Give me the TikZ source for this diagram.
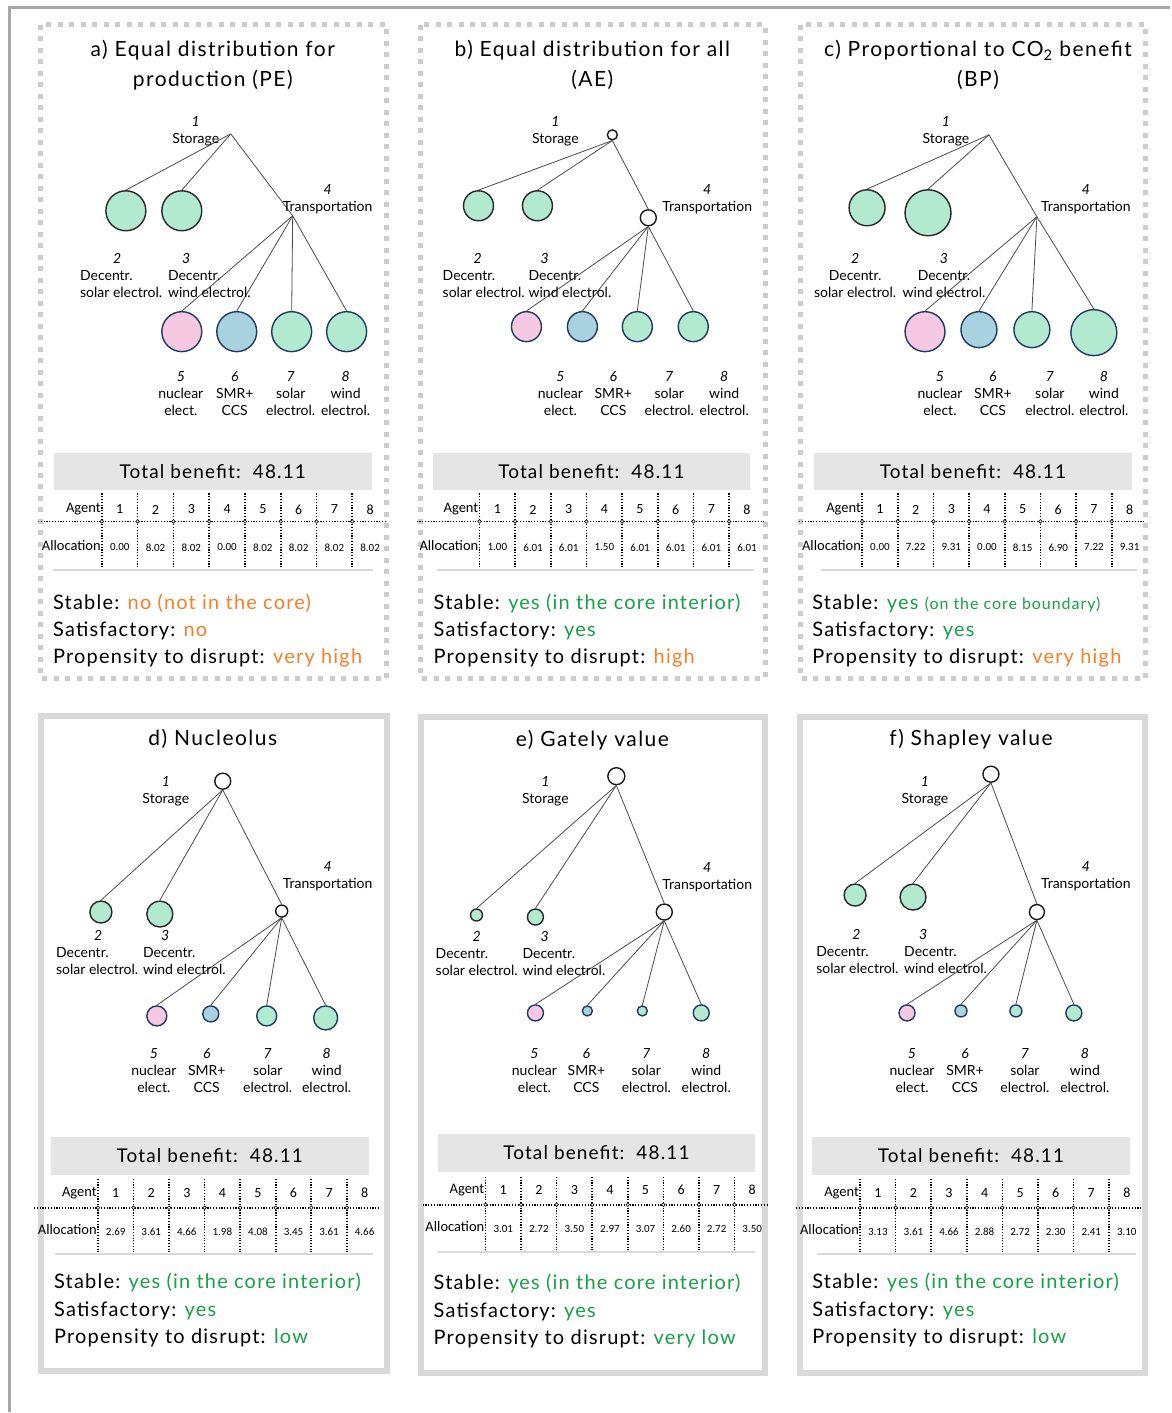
\documentclass[tikz,border=0pt]{standalone}
\usepackage{fontspec}
\setmainfont{Lato}
\newfontfamily\titlefont[LetterSpace=7]{Lato}
\newfontfamily\statusfont[LetterSpace=6]{Lato}
\newfontfamily\tabfont{Carlito}
\definecolor{mint}{RGB}{178,234,208}
\definecolor{pinkfill}{RGB}{247,200,226}
\definecolor{bluefill}{RGB}{168,210,224}
\definecolor{navy}{RGB}{31,56,100}
\definecolor{okgreen}{RGB}{24,160,72}
\definecolor{warnorange}{RGB}{245,128,40}

\begin{document}
\begin{tikzpicture}[
    x=1pt, y=-1pt,
    outerframe/.style={draw=gray!70, line width=3},
    dotframe/.style={draw=gray!40, line width=5, dash pattern=on 5 off 6.5},
    solidframe/.style={draw=gray!30, line width=6},
    title/.style={font=\titlefont\fontsize{21}{30}\selectfont, align=center},
    src/.style={circle, draw=black!85, fill=mint, line width=1.4, inner sep=0},
    gen/.style={circle, draw=navy, line width=1.4, inner sep=0},
    hub/.style={circle, draw=black!90, fill=white, line width=1.4, inner sep=0},
    link/.style={draw=black!70, line width=0.8},
    lbl/.style={font=\fontsize{14}{17}\selectfont, align=center, anchor=north, inner sep=0},
    lblL/.style={lbl, align=left, anchor=north west},
    benefit/.style={fill=gray!20, font=\statusfont\fontsize{19}{19}\selectfont, inner sep=0, minimum width=318, minimum height=38},
    rowhead/.style={font=\tabfont\fontsize{14.5}{14.5}\selectfont, anchor=east, inner sep=1},
    agentno/.style={font=\tabfont\fontsize{14}{14}\selectfont},
    allocno/.style={font=\tabfont\fontsize{11}{11}\selectfont},
    tabdots/.style={line width=1.6, dash pattern=on 1.2 off 1.6},
    jdot/.style={line width=0.6, fill=white},
    rule/.style={draw=gray!30, line width=2},
    status/.style={anchor=west, inner sep=0, font=\statusfont\fontsize{20}{20}\selectfont}
  ]

  \fill[white] (0,0) rectangle (1171,1413);
  \draw[outerframe] (10,1413) -- (10,8) -- (1171,8);

  % ---------------- a) PE ----------------
  \draw[dotframe] (41,25) rectangle (387,679);
  \node[title] (aT) at (213,65) {a) Equal distribution for\\production (PE)};

  \coordinate (a1) at (231,134);
  \coordinate (a4) at (293,216);
  \node[src, minimum size=40] (a2) at (126,211) {};
  \node[src, minimum size=40] (a3) at (182,211) {};
  \node[gen, fill=pinkfill, minimum size=40] (a5) at (182,332) {};
  \node[gen, fill=bluefill, minimum size=40] (a6) at (237,332) {};
  \node[gen, fill=mint, minimum size=40] (a7) at (292,332) {};
  \node[gen, fill=mint, minimum size=40] (a8) at (347,332) {};
  \draw[link] (a1) -- (a2.north);
  \draw[link] (a1) -- (a3.north);
  \draw[link] (a1) -- (a4);
  \foreach \k in {5,...,8} \draw[link] (a4) -- (a\k.north);

  \node[lbl] (aL1) at (196,116) {\textit{1}\\Storage};
  \node[lbl] (aL4) at (328,184) {\textit{4}\\Transportation};
  \node[lblL] (aL2) at (80,253) {\hspace*{33pt}\textit{2}\\Decentr.\\solar electrol.};
  \node[lblL] (aL3) at (168,253) {\hspace*{14pt}\textit{3}\\Decentr.\\wind electrol.};
  \node[lbl] (aL5) at (181,372) {\textit{5}\\nuclear\\elect.};
  \node[lbl] (aL6) at (235,372) {\textit{6}\\SMR+\\CCS};
  \node[lbl] (aL7) at (291,372) {\textit{7}\\solar\\electrol.};
  \node[lbl] (aL8) at (346,372) {\textit{8}\\wind\\electrol.};

  \node[benefit] (aB) at (213,472) {Total benefit:\ \ 48.11};
  \node[rowhead] (aAg) at (102,510) {Agent};
  \node[rowhead] (aAl) at (102,546) {Allocation};
  \draw[tabdots] (38,522) -- (386,522);
  \foreach \v [count=\i] in {0.00,8.02,8.02,0.00,8.02,8.02,8.02,8.02} {
    \pgfmathsetmacro\xl{102+35.8*(\i-1)}
    \draw[tabdots] (\xl,494) -- (\xl,568);
    \draw[jdot] (\xl,522) circle (1.8);
    \node[agentno] (aN\i) at (\xl+17.9,510) {\i};
    \node[allocno] (aV\i) at (\xl+17.9,548) {\v};
  }
  \draw[rule] (53,571) -- (373,571);
  \node[status] (aS1) at (53,604) {Stable: \textcolor{warnorange}{no (not in the core)}};
  \node[status] (aS2) at (53,632) {Satisfactory: \textcolor{warnorange}{no}};
  \node[status] (aS3) at (53,659) {Propensity to disrupt: \textcolor{warnorange}{very high}};

  % ---------------- b) AE ----------------
  \draw[dotframe] (421,25) rectangle (766,679);
  \node[title] (bT) at (593,65) {b) Equal distribution for all\\(AE)};

  \node[hub, minimum size=10] (b1) at (613,135) {};
  \node[hub, minimum size=16] (b4) at (649,218) {};
  \node[src, minimum size=30] (b2) at (479,206) {};
  \node[src, minimum size=30] (b3) at (538,206) {};
  \node[gen, fill=pinkfill, minimum size=30] (b5) at (527,327) {};
  \node[gen, fill=bluefill, minimum size=30] (b6) at (583,327) {};
  \node[gen, fill=mint, minimum size=30] (b7) at (638,327) {};
  \node[gen, fill=mint, minimum size=30] (b8) at (694,327) {};
  \draw[link] (b1.south) -- (b2.north);
  \draw[link] (b1.south) -- (b3.north);
  \draw[link] (b1.south) -- (b4.north);
  \foreach \k in {5,...,8} \draw[link] (b4.south) -- (b\k.north);

  \node[lbl] (bL1) at (556,116) {\textit{1}\\Storage};
  \node[lbl] (bL4) at (708,184) {\textit{4}\\Transportation};
  \node[lblL] (bL2) at (443,253) {\hspace*{31pt}\textit{2}\\Decentr.\\solar electrol.};
  \node[lblL] (bL3) at (529,253) {\hspace*{12pt}\textit{3}\\Decentr.\\wind electrol.};
  \node[lbl] (bL5) at (561,372) {\textit{5}\\nuclear\\elect.};
  \node[lbl] (bL6) at (614,372) {\textit{6}\\SMR+\\CCS};
  \node[lbl] (bL7) at (670,372) {\textit{7}\\solar\\electrol.};
  \node[lbl] (bL8) at (725,372) {\textit{8}\\wind\\electrol.};

  \node[benefit] (bB) at (592,472) {Total benefit:\ \ 48.11};
  \node[rowhead] (bAg) at (480,510) {Agent};
  \node[rowhead] (bAl) at (480,546) {Allocation};
  \draw[tabdots] (417,522) -- (765,522);
  \foreach \v [count=\i] in {1.00,6.01,6.01,1.50,6.01,6.01,6.01,6.01} {
    \pgfmathsetmacro\xl{480+35.7*(\i-1)}
    \draw[tabdots] (\xl,494) -- (\xl,568);
    \draw[jdot] (\xl,522) circle (1.8);
    \node[agentno] (bN\i) at (\xl+17.9,510) {\i};
    \node[allocno] (bV\i) at (\xl+17.9,548) {\v};
  }
  \draw[rule] (437,571) -- (755,571);
  \node[status] (bS1) at (434,604) {Stable: \textcolor{okgreen}{yes (in the core interior)}};
  \node[status] (bS2) at (434,632) {Satisfactory: \textcolor{okgreen}{yes}};
  \node[status] (bS3) at (434,659) {Propensity to disrupt: \textcolor{warnorange}{high}};

  % ---------------- c) BP ----------------
  \draw[dotframe] (801,25) rectangle (1147,679);
  \node[title] (cT) at (979,65) {c) Proportional to CO\textsubscript{2} benefit\\(BP)};

  \coordinate (c1) at (990,135);
  \coordinate (c4) at (1038,217);
  \node[src, minimum size=36] (c2) at (868,208) {};
  \node[src, minimum size=46] (c3) at (929,213) {};
  \node[gen, fill=pinkfill, minimum size=40] (c5) at (926,332) {};
  \node[gen, fill=bluefill, minimum size=36] (c6) at (980,330) {};
  \node[gen, fill=mint, minimum size=36] (c7) at (1033,330) {};
  \node[gen, fill=mint, minimum size=46] (c8) at (1095,333) {};
  \draw[link] (c1) -- (c2.north);
  \draw[link] (c1) -- (c3.north);
  \draw[link] (c1) -- (c4);
  \foreach \k in {5,...,8} \draw[link] (c4) -- (c\k.north);

  \node[lbl] (cL1) at (947,116) {\textit{1}\\Storage};
  \node[lbl] (cL4) at (1087,184) {\textit{4}\\Transportation};
  \node[lbl] (cL2) at (856,253) {\textit{2}\\Decentr.\\solar electrol.};
  \node[lbl] (cL3) at (945,253) {\textit{3}\\Decentr.\\wind electrol.};
  \node[lbl] (cL5) at (941,372) {\textit{5}\\nuclear\\elect.};
  \node[lbl] (cL6) at (994,372) {\textit{6}\\SMR+\\CCS};
  \node[lbl] (cL7) at (1051,372) {\textit{7}\\solar\\electrol.};
  \node[lbl] (cL8) at (1105,372) {\textit{8}\\wind\\electrol.};

  \node[benefit] (cB) at (974,472) {Total benefit:\ \ 48.11};
  \node[rowhead] (cAg) at (863,510) {Agent};
  \node[rowhead] (cAl) at (863,546) {Allocation};
  \draw[tabdots] (800,522) -- (1147,522);
  \foreach \v [count=\i] in {0.00,7.22,9.31,0.00,8.15,6.90,7.22,9.31} {
    \pgfmathsetmacro\xl{863+35.7*(\i-1)}
    \draw[tabdots] (\xl,494) -- (\xl,568);
    \draw[jdot] (\xl,522) circle (1.8);
    \node[agentno] (cN\i) at (\xl+17.9,510) {\i};
    \node[allocno] (cV\i) at (\xl+17.9,548) {\v};
  }
  \draw[rule] (822,571) -- (1138,571);
  \node[status] (cS1) at (813,604) {Stable: \textcolor{okgreen}{yes {\fontsize{16}{16}\selectfont(on the core boundary)}}};
  \node[status] (cS2) at (813,632) {Satisfactory: \textcolor{okgreen}{yes}};
  \node[status] (cS3) at (813,659) {Propensity to disrupt: \textcolor{warnorange}{very high}};

  % ---------------- d) Nucleolus ----------------
  \draw[solidframe] (41,717) rectangle (387,1372);
  \node[title] (dT) at (213,740) {d) Nucleolus};

  \node[hub, minimum size=16] (d1) at (223,782) {};
  \node[hub, minimum size=12] (d4) at (282,912) {};
  \node[src, minimum size=22] (d2) at (101,913) {};
  \node[src, minimum size=26] (d3) at (160,915) {};
  \node[gen, fill=pinkfill, minimum size=20] (d5) at (157,1017) {};
  \node[gen, fill=bluefill, minimum size=16] (d6) at (211,1015) {};
  \node[gen, fill=mint, minimum size=20] (d7) at (267,1017) {};
  \node[gen, fill=mint, minimum size=24] (d8) at (326,1019) {};
  \draw[link] (d1.south) -- (d2.north);
  \draw[link] (d1.south) -- (d3.north);
  \draw[link] (d1.south) -- (d4.north);
  \foreach \k in {5,...,8} \draw[link] (d4.south) -- (d\k.north);

  \node[lbl] (dL1) at (166,777) {\textit{1}\\Storage};
  \node[lbl] (dL4) at (328,862) {\textit{4}\\Transportation};
  \node[lblL] (dL2) at (56,931) {\hspace*{38pt}\textit{2}\\Decentr.\\solar electrol.};
  \node[lblL] (dL3) at (143,931) {\hspace*{18pt}\textit{3}\\Decentr.\\wind electrol.};
  \node[lbl] (dL5) at (154,1049) {\textit{5}\\nuclear\\elect.};
  \node[lbl] (dL6) at (207,1049) {\textit{6}\\SMR+\\CCS};
  \node[lbl] (dL7) at (268,1049) {\textit{7}\\solar\\electrol.};
  \node[lbl] (dL8) at (327,1049) {\textit{8}\\wind\\electrol.};

  \node[benefit] (dB) at (210,1157) {Total benefit:\ \ 48.11};
  \node[rowhead] (dAg) at (98,1194) {Agent};
  \node[rowhead] (dAl) at (98,1231) {Allocation};
  \draw[tabdots] (34,1209) -- (381,1209);
  \foreach \v [count=\i] in {2.69,3.61,4.66,1.98,4.08,3.45,3.61,4.66} {
    \pgfmathsetmacro\xl{98+35.6*(\i-1)}
    \draw[tabdots] (\xl,1180) -- (\xl,1253);
    \draw[jdot] (\xl,1209) circle (1.8);
    \node[agentno] (dN\i) at (\xl+17.8,1194) {\i};
    \node[allocno] (dV\i) at (\xl+17.8,1233) {\v};
  }
  \draw[rule] (55,1255) -- (373,1255);
  \node[status] (dS1) at (54,1284) {Stable: \textcolor{okgreen}{yes (in the core interior)}};
  \node[status] (dS2) at (54,1312) {Satisfactory: \textcolor{okgreen}{yes}};
  \node[status] (dS3) at (54,1339) {Propensity to disrupt: \textcolor{okgreen}{low}};

  % ---------------- e) Gately value ----------------
  \draw[solidframe] (421,718) rectangle (766,1374);
  \node[title] (eT) at (593,741) {e) Gately value};

  \node[hub, minimum size=17] (e1) at (617,777) {};
  \node[hub, minimum size=16] (e4) at (665,913) {};
  \node[src, minimum size=12] (e2) at (477,916) {};
  \node[src, minimum size=16] (e3) at (536,918) {};
  \node[gen, fill=pinkfill, minimum size=16] (e5) at (536,1014) {};
  \node[gen, fill=bluefill, minimum size=10] (e6) at (588,1012) {};
  \node[gen, fill=mint, minimum size=10] (e7) at (643,1012) {};
  \node[gen, fill=mint, minimum size=16] (e8) at (702,1014) {};
  \draw[link] (e1.south) -- (e2.north);
  \draw[link] (e1.south) -- (e3.north);
  \draw[link] (e1.south) -- (e4.north);
  \foreach \k in {5,...,8} \draw[link] (e4.south) -- (e\k.north);

  \node[lbl] (eL1) at (546,777) {\textit{1}\\Storage};
  \node[lbl] (eL4) at (708,863) {\textit{4}\\Transportation};
  \node[lblL] (eL2) at (436,932) {\hspace*{37pt}\textit{2}\\Decentr.\\solar electrol.};
  \node[lblL] (eL3) at (523,932) {\hspace*{18pt}\textit{3}\\Decentr.\\wind electrol.};
  \node[lbl] (eL5) at (535,1049) {\textit{5}\\nuclear\\elect.};
  \node[lbl] (eL6) at (587,1049) {\textit{6}\\SMR+\\CCS};
  \node[lbl] (eL7) at (647,1049) {\textit{7}\\solar\\electrol.};
  \node[lbl] (eL8) at (707,1049) {\textit{8}\\wind\\electrol.};

  \node[benefit] (eB) at (597,1154) {Total benefit:\ \ 48.11};
  \node[rowhead] (eAg) at (486,1191) {Agent};
  \node[rowhead] (eAl) at (486,1228) {Allocation};
  \draw[tabdots] (423,1206) -- (769,1206);
  \foreach \v [count=\i] in {3.01,2.72,3.50,2.97,3.07,2.60,2.72,3.50} {
    \pgfmathsetmacro\xl{486+35.6*(\i-1)}
    \draw[tabdots] (\xl,1178) -- (\xl,1251);
    \draw[jdot] (\xl,1206) circle (1.8);
    \node[agentno] (eN\i) at (\xl+17.8,1191) {\i};
    \node[allocno] (eV\i) at (\xl+17.8,1230) {\v};
  }
  \draw[rule] (438,1253) -- (756,1253);
  \node[status] (eS1) at (434,1285) {Stable: \textcolor{okgreen}{yes (in the core interior)}};
  \node[status] (eS2) at (434,1313) {Satisfactory: \textcolor{okgreen}{yes}};
  \node[status] (eS3) at (434,1340) {Propensity to disrupt: \textcolor{okgreen}{very low}};

  % ---------------- f) Shapley value ----------------
  \draw[solidframe] (801,718) rectangle (1146,1374);
  \node[title] (fT) at (972,740) {f) Shapley value};

  \node[hub, minimum size=16] (f1) at (992,775) {};
  \node[hub, minimum size=15] (f4) at (1038,913) {};
  \node[src, minimum size=22] (f2) at (856,896) {};
  \node[src, minimum size=26] (f3) at (914,898) {};
  \node[gen, fill=pinkfill, minimum size=16] (f5) at (908,1014) {};
  \node[gen, fill=bluefill, minimum size=12] (f6) at (962,1012) {};
  \node[gen, fill=mint, minimum size=12] (f7) at (1017,1012) {};
  \node[gen, fill=mint, minimum size=16] (f8) at (1075,1014) {};
  \draw[link] (f1.south) -- (f2.north);
  \draw[link] (f1.south) -- (f3.north);
  \draw[link] (f1.south) -- (f4.north);
  \foreach \k in {5,...,8} \draw[link] (f4.south) -- (f\k.north);

  \node[lbl] (fL1) at (926,777) {\textit{1}\\Storage};
  \node[lbl] (fL4) at (1087,862) {\textit{4}\\Transportation};
  \node[lblL] (fL2) at (817,930) {\hspace*{36pt}\textit{2}\\Decentr.\\solar electrol.};
  \node[lblL] (fL3) at (905,930) {\hspace*{15pt}\textit{3}\\Decentr.\\wind electrol.};
  \node[lbl] (fL5) at (913,1049) {\textit{5}\\nuclear\\elect.};
  \node[lbl] (fL6) at (966,1049) {\textit{6}\\SMR+\\CCS};
  \node[lbl] (fL7) at (1026,1049) {\textit{7}\\solar\\electrol.};
  \node[lbl] (fL8) at (1086,1049) {\textit{8}\\wind\\electrol.};

  \node[benefit] (fB) at (972,1157) {Total benefit:\ \ 48.11};
  \node[rowhead] (fAg) at (861,1194) {Agent};
  \node[rowhead] (fAl) at (861,1231) {Allocation};
  \draw[tabdots] (797,1209) -- (1144,1209);
  \foreach \v [count=\i] in {3.13,3.61,4.66,2.88,2.72,2.30,2.41,3.10} {
    \pgfmathsetmacro\xl{861+35.6*(\i-1)}
    \draw[tabdots] (\xl,1180) -- (\xl,1253);
    \draw[jdot] (\xl,1209) circle (1.8);
    \node[agentno] (fN\i) at (\xl+17.8,1194) {\i};
    \node[allocno] (fV\i) at (\xl+17.8,1233) {\v};
  }
  \draw[rule] (818,1255) -- (1137,1255);
  \node[status] (fS1) at (813,1284) {Stable: \textcolor{okgreen}{yes (in the core interior)}};
  \node[status] (fS2) at (813,1312) {Satisfactory: \textcolor{okgreen}{yes}};
  \node[status] (fS3) at (813,1339) {Propensity to disrupt: \textcolor{okgreen}{low}};

  \useasboundingbox (0,0) rectangle (1171,1413);
\end{tikzpicture}
\end{document}
